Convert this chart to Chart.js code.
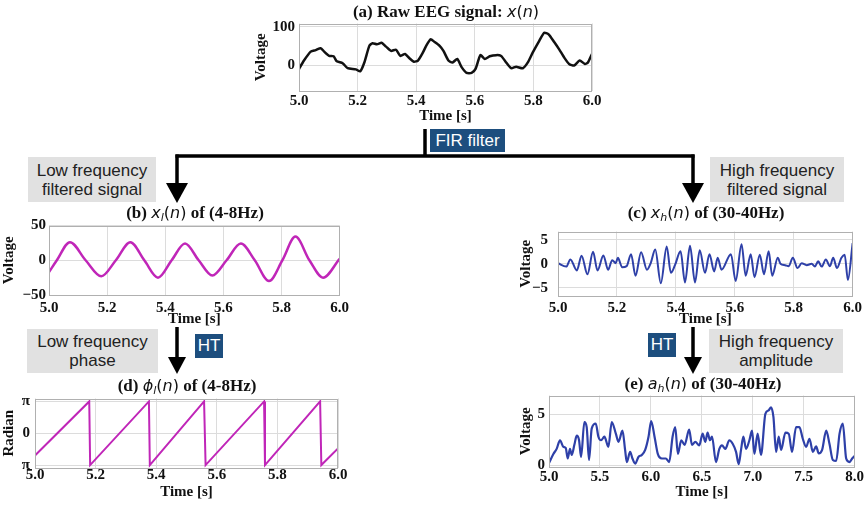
<!DOCTYPE html>
<html><head><meta charset="utf-8">
<script src="https://cdn.jsdelivr.net/npm/chart.js@4"></script>
<style>
body{margin:0;background:#fff;width:867px;height:505px;position:relative;overflow:hidden;font-family:"Liberation Sans",Arial,sans-serif;}
canvas{position:absolute;}
svg{position:absolute;left:0;top:0;}
.ttl{position:absolute;transform:translate(-50%,-50%);white-space:nowrap;font:bold 17px "Liberation Serif","Times New Roman",serif;color:#111;}
.m{font-family:"DejaVu Sans";font-weight:normal;font-size:16px;}
.sb{font-size:11px;position:relative;top:3px;}
.gbox{position:absolute;background:#e1e1e1;color:#222;font-size:17px;line-height:19px;text-align:center;display:flex;align-items:center;justify-content:center;}
.bbox{position:absolute;background:#1d4e7e;color:#fff;font-size:17px;display:flex;align-items:center;justify-content:center;}
</style></head>
<body>
<svg width="867" height="505">
<g stroke="#000" stroke-width="3.5" fill="none">
<line x1="425" y1="129" x2="425" y2="157"/>
<line x1="175.5" y1="156" x2="694.5" y2="156"/>
<line x1="177" y1="154.5" x2="177" y2="186"/>
<line x1="693" y1="154.5" x2="693" y2="186"/>
<line x1="177" y1="327" x2="177" y2="360"/>
<line x1="693" y1="327" x2="693" y2="360"/>
</g>
<g fill="#000">
<polygon points="166,183 188,183 177,203"/>
<polygon points="682,183 704,183 693,203"/>
<polygon points="168,357 186,357 177,374"/>
<polygon points="684,357 702,357 693,374"/>
</g>
</svg>
<div class="bbox" style="left:430px;top:129px;width:75px;height:23px;">FIR filter</div>
<div class="bbox" style="left:195px;top:334px;width:28px;height:24px;">HT</div>
<div class="bbox" style="left:648px;top:333px;width:28px;height:24px;">HT</div>
<div class="gbox" style="left:28px;top:157px;width:128px;height:45px;">Low frequency<br>filtered signal</div>
<div class="gbox" style="left:710px;top:157px;width:134px;height:45px;">High frequency<br>filtered signal</div>
<div class="gbox" style="left:27px;top:329px;width:131px;height:44px;">Low frequency<br>phase</div>
<div class="gbox" style="left:709px;top:329px;width:134px;height:44px;">High frequency<br>amplitude</div>
<script>
// ---- data ----
const aTime = [5.0,5.017,5.04,5.057,5.074,5.086,5.103,5.118,5.129,5.149,5.166,5.194,5.209,5.223,5.24,5.251,5.266,5.282,5.297,5.314,5.331,5.346,5.362,5.377,5.392,5.406,5.423,5.434,5.449,5.463,5.48,5.493,5.51,5.524,5.54,5.555,5.572,5.589,5.603,5.619,5.634,5.651,5.673,5.69,5.705,5.724,5.741,5.764,5.781,5.798,5.82,5.837,5.852,5.871,5.888,5.905,5.922,5.939,5.958,5.976,5.986,6.0];
const aVolt = [-9,13,36,40,45,36,25,24,11,6,-7,-10,-15,8,51,58,55,59,49,38,41,25,30,19,10,13,34,51,68,61,51,38,13,8,17,-4,-19,-19,-8,27,17,24,27,25,10,-7,-3,-7,8,34,64,85,81,61,42,21,4,0,13,4,8,30];

const bTime = [5.0,5.027,5.072,5.126,5.18,5.23,5.28,5.328,5.375,5.422,5.468,5.515,5.562,5.611,5.66,5.708,5.757,5.803,5.848,5.896,5.943,6.0];
const bVolt = [-17,0,26,0,-23,0,26,0,-25,0,24,0,-22,0,24,0,-30,0,34,0,-25,2];

const cTime = [5.0,5.028,5.042,5.064,5.080,5.100,5.119,5.134,5.154,5.170,5.184,5.196,5.203,5.218,5.233,5.248,5.263,5.282,5.302,5.315,5.330,5.349,5.369,5.383,5.397,5.416,5.431,5.448,5.465,5.481,5.499,5.514,5.530,5.542,5.555,5.587,5.603,5.623,5.637,5.654,5.667,5.685,5.699,5.715,5.727,5.746,5.755,5.771,5.783,5.797,5.813,5.827,5.844,5.861,5.872,5.883,5.895,5.909,5.923,5.934,5.947,5.962,5.973,5.984,6.0];
const cVolt = [0.1,-0.6,0.9,-1.4,1.7,-2.2,2.5,-1.4,1.75,-1.25,0.75,0.1,1.25,-0.75,-0.5,2.0,-2.5,2.4,-1.25,0.2,3.0,-4.1,3.6,-1.9,-0.3,2.6,-3.9,3.75,-3.9,2.8,-1.9,2.0,-1.6,1.25,-1.25,2.0,-3.6,4.1,-2.5,2.0,-2.8,1.9,-2.2,2.6,-2.5,1.25,0,-0.3,-0.5,1.25,-0.9,0.1,-0.3,0,-0.6,0.5,-0.6,0.9,-0.5,1.25,-0.9,1.25,1.9,-3.4,4.3];

const dTime = [5.0,5.179,5.182,5.376,5.379,5.558,5.563,5.756,5.759,5.941,5.945,6.0];
const dPhase = [-2.19,3.14,-3.14,3.14,-3.14,3.14,-3.14,3.14,-3.14,3.14,-3.14,-1.5];

const eTime = [5.0,5.043,5.075,5.108,5.141,5.164,5.184,5.206,5.223,5.249,5.272,5.295,5.315,5.347,5.370,5.393,5.419,5.459,5.485,5.511,5.544,5.583,5.616,5.656,5.682,5.721,5.747,5.764,5.796,5.819,5.846,5.878,5.911,5.944,5.977,6.003,6.036,6.068,6.108,6.147,6.180,6.213,6.239,6.265,6.298,6.331,6.376,6.403,6.436,6.475,6.508,6.534,6.557,6.580,6.600,6.639,6.672,6.698,6.731,6.770,6.803,6.836,6.862,6.885,6.908,6.934,6.967,6.993,7.016,7.048,7.081,7.124,7.156,7.180,7.203,7.229,7.255,7.278,7.321,7.353,7.386,7.425,7.458,7.491,7.524,7.557,7.590,7.622,7.648,7.681,7.721,7.753,7.786,7.819,7.852,7.884,7.917,7.950,7.976,8.0];
const eVolt = [0.2,1.1,1.6,2.45,1.8,1.7,0.65,1.6,1.0,2.0,2.9,2.45,0.8,4.25,3.75,0.5,3.6,4.1,2.8,2.45,2.8,1.8,4.25,3.1,2.3,3.4,1.5,0.3,1.3,0.65,0.15,0.8,1.0,1.5,2.8,4.35,2.8,1.1,0.65,0.65,0.3,2.8,3.75,1.1,2.45,2.0,3.5,2.0,2.3,1.95,3.1,2.3,3.2,2.45,2.8,0.3,1.6,1.95,1.6,2.45,2.1,1.3,0.1,1.5,2.8,1.6,2.45,3.4,1.1,3.1,1.0,5.05,5.4,5.7,4.75,1.3,2.8,1.5,3.2,3.1,1.3,3.75,3.75,2.6,1.8,2.6,1.3,1.85,1.15,1.5,3.4,2.1,0.5,0.4,3.1,4.1,0.65,0.3,0.65,0.9];

const secTicks = [5.0,5.2,5.4,5.6,5.8,6.0];
const secLabels = ['5.0','5.2','5.4','5.6','5.8','6.0'];
const eXTicks = [5.0,5.5,6.0,6.5,7.0,7.5,8.0];
const eXLabels = ['5.0','5.5','6.0','6.5','7.0','7.5','8.0'];
const aYTicks = [0,100];       const aYLabels = ['0','100'];
const bYTicks = [-50,0,50];    const bYLabels = ['\u221250','0','50'];
const cYTicks = [-5,0,5];      const cYLabels = ['\u22125','0','5'];
const dYTicks = [-Math.PI,0,Math.PI]; const dYLabels = ['\u03c0','0','\u03c0'];
const eYTicks = [0,5];         const eYLabels = ['0','5'];

// ---- drawing ----
const tickFont = {family:'"Liberation Serif","Times New Roman",serif', size:15, weight:'bold', lineHeight:1};
const axFont = {family:'"Liberation Serif","Times New Roman",serif', size:15, weight:'bold', lineHeight:1};
const gridC = '#dcdcdc';
const framePlugin = {id:'frame', afterDatasetsDraw(chart){
  const {ctx, chartArea:a} = chart; ctx.save(); ctx.strokeStyle='#b0b0b0'; ctx.lineWidth=1;
  ctx.strokeRect(Math.round(a.left)+0.5, Math.round(a.top)+0.5, Math.round(a.right-a.left)-1, Math.round(a.bottom-a.top)-1); ctx.restore();
}};
function pairs(xs, ys){ return xs.map((x,i)=>({x:x, y:ys[i]})); }
function mk(g, s){
  const cv = document.createElement('canvas');
  cv.width=g.w; cv.height=g.h;
  cv.style.left=g.l+'px'; cv.style.top=g.t+'px'; cv.style.width=g.w+'px'; cv.style.height=g.h+'px';
  document.body.appendChild(cv);
  new Chart(cv, {
    type:'line',
    data:{datasets:[{data:pairs(s.xs,s.ys), borderColor:s.color, borderWidth:s.lw, pointRadius:0, tension:s.tension, cubicInterpolationMode:s.mono?'monotone':'default', fill:false}]},
    options:{responsive:false, animation:false, devicePixelRatio:1, events:[],
      layout:{padding:{left:0, top:g.pt, right:g.pr, bottom:0}},
      plugins:{legend:{display:false}, tooltip:{enabled:false}},
      scales:{
        x:{type:'linear', min:s.xmin, max:s.xmax,
          afterBuildTicks:sc=>{sc.ticks=s.xt.map(v=>({value:v}));},
          afterFit:sc=>{sc.height=g.xh;},
          ticks:{callback:(v,i)=>s.xl[i], padding:g.xp, font:tickFont, color:'#111', maxRotation:0, minRotation:0, autoSkip:false},
          grid:{color:gridC, drawTicks:false, lineWidth:1}, border:{display:false},
          title:{display:true, text:'Time [s]', font:axFont, color:'#111', padding:0}},
        y:{type:'linear', min:s.ymin, max:s.ymax,
          afterBuildTicks:sc=>{sc.ticks=s.yt.map(v=>({value:v}));},
          afterFit:sc=>{sc.width=g.yw;},
          ticks:{callback:(v,i)=>s.yl[i], padding:g.yp, font:tickFont, color:'#111', autoSkip:false},
          grid:{color:gridC, drawTicks:false, lineWidth:1}, border:{display:false},
          title:{display:true, text:s.ytitle, font:axFont, color:'#111', padding:0}}
      }
    },
    plugins:[framePlugin]
  });
}
mk({l:254,t:12,w:353,h:112,yw:45,xh:33,pt:10,pr:15,xp:3,yp:4},
   {xs:aTime,ys:aVolt,color:'#111',lw:2.5,tension:0.2,mono:false,xmin:5,xmax:6,xt:secTicks,xl:secLabels,ymin:-66,ymax:109,yt:aYTicks,yl:aYLabels,ytitle:'Voltage'});
mk({l:2,t:215,w:353,h:112,yw:47,xh:32,pt:10,pr:15,xp:6,yp:3},
   {xs:bTime,ys:bVolt,color:'#c026b8',lw:2.5,tension:0.4,mono:true,xmin:5,xmax:6,xt:secTicks,xl:secLabels,ymin:-50,ymax:50,yt:bYTicks,yl:bYLabels,ytitle:'Voltage'});
mk({l:519,t:214,w:348,h:113,yw:39,xh:31,pt:10,pr:12,xp:5,yp:10},
   {xs:cTime,ys:cVolt,color:'#2e40a8',lw:2,tension:0.4,mono:true,xmin:5,xmax:6,xt:secTicks,xl:secLabels,ymin:-6.75,ymax:6.75,yt:cYTicks,yl:cYLabels,ytitle:'Voltage'});
mk({l:2,t:386,w:351,h:114,yw:33,xh:32,pt:10,pr:15,xp:0,yp:5},
   {xs:dTime,ys:dPhase,color:'#c026b8',lw:2,tension:0,mono:false,xmin:5,xmax:6,xt:secTicks,xl:secLabels,ymin:-3.43,ymax:3.43,yt:dYTicks,yl:dYLabels,ytitle:'Radian'});
mk({l:519,t:384,w:348,h:116,yw:30,xh:33,pt:10,pr:11,xp:3,yp:4},
   {xs:eTime,ys:eVolt,color:'#2e40a8',lw:2.2,tension:0.3,mono:true,xmin:5,xmax:8,xt:eXTicks,xl:eXLabels,ymin:-0.19,ymax:6.87,yt:eYTicks,yl:eYLabels,ytitle:'Voltage'});
</script>
<div class="ttl" style="left:446px;top:12px;">(a) Raw EEG signal: <span class="m"><i>x</i>(<i>n</i>)</span></div>
<div class="ttl" style="left:195px;top:213px;">(b) <span class="m"><i>x</i><span class="sb"><i>l</i></span>(<i>n</i>)</span> of (4-8Hz)</div>
<div class="ttl" style="left:706px;top:213px;">(c) <span class="m"><i>x</i><span class="sb"><i>h</i></span>(<i>n</i>)</span> of (30-40Hz)</div>
<div class="ttl" style="left:187px;top:386px;">(d) <span class="m"><i>ϕ</i><span class="sb"><i>l</i></span>(<i>n</i>)</span> of (4-8Hz)</div>
<div class="ttl" style="left:703px;top:384px;">(e) <span class="m"><i>a</i><span class="sb"><i>h</i></span>(<i>n</i>)</span> of (30-40Hz)</div>
</body></html>
